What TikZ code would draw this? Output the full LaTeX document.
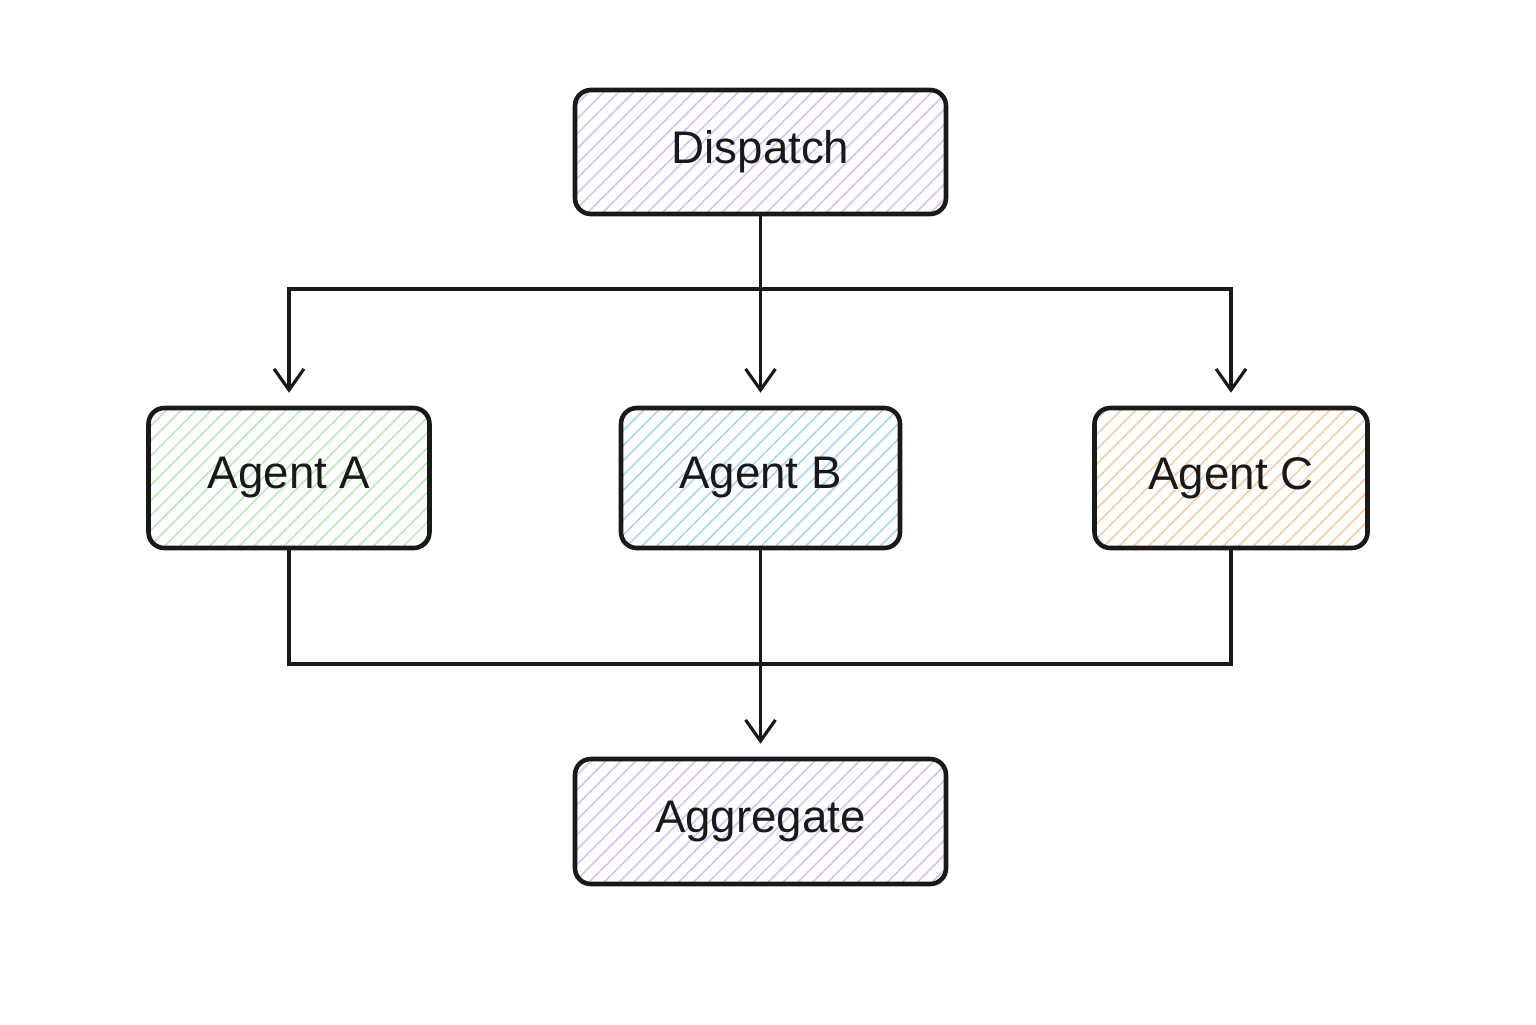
\documentclass[tikz,border=0pt]{standalone}
\usepackage{fontspec}
\setmainfont{Liberation Sans}
\usetikzlibrary{patterns.meta,arrows.meta}

\definecolor{inkblack}{RGB}{25,25,25}
\definecolor{hatchpurple}{RGB}{214,192,246}
\definecolor{hatchgreen}{RGB}{180,236,180}
\definecolor{hatchblue}{RGB}{170,210,243}
\definecolor{hatchorange}{RGB}{250,202,160}

\tikzset{
    stage/.style={draw=inkblack, line width=1.3pt, rounded corners=4.5pt,
        font=\fontsize{13}{15}\selectfont, text=inkblack},
    hatched/.style={pattern={Lines[angle=45,distance=3pt,line width=0.45pt]}, pattern color=#1},
    link/.style={draw=inkblack, line width=0.9pt, -{Straight Barb[length=6pt,width=8.5pt,line width=0.9pt]}, shorten >=0.13cm},
    wire/.style={draw=inkblack, line width=0.9pt}
}

\begin{document}
\begin{tikzpicture}[x=1cm, y=-1cm]
    \useasboundingbox[fill=white] (0,0) rectangle (15.36,10.24);

    \node[stage, hatched=hatchpurple, minimum width=3.71cm, minimum height=1.24cm] (dispatch) at (7.605,1.52) {Dispatch};
    \node[stage, hatched=hatchgreen, minimum width=2.81cm, minimum height=1.40cm] (agentA) at (2.89,4.78) {Agent A};
    \node[stage, hatched=hatchblue, minimum width=2.79cm, minimum height=1.40cm] (agentB) at (7.605,4.78) {Agent B};
    \node[stage, hatched=hatchorange, minimum width=2.73cm, minimum height=1.40cm] (agentC) at (12.31,4.78) {Agent C};
    \node[stage, hatched=hatchpurple, minimum width=3.71cm, minimum height=1.25cm] (aggregate) at (7.605,8.215) {Aggregate};

    \coordinate (split) at (7.605,2.89);
    \coordinate (join) at (7.605,6.64);

    % fan out
    \draw[link] (dispatch) -- (agentB);
    \draw[link] (split) -| (agentA.north);
    \draw[link] (split) -| (agentC.north);

    % fan in
    \draw[wire] (agentA.south) |- (join);
    \draw[wire] (agentC.south) |- (join);
    \draw[link] (agentB) -- (aggregate);
\end{tikzpicture}
\end{document}
